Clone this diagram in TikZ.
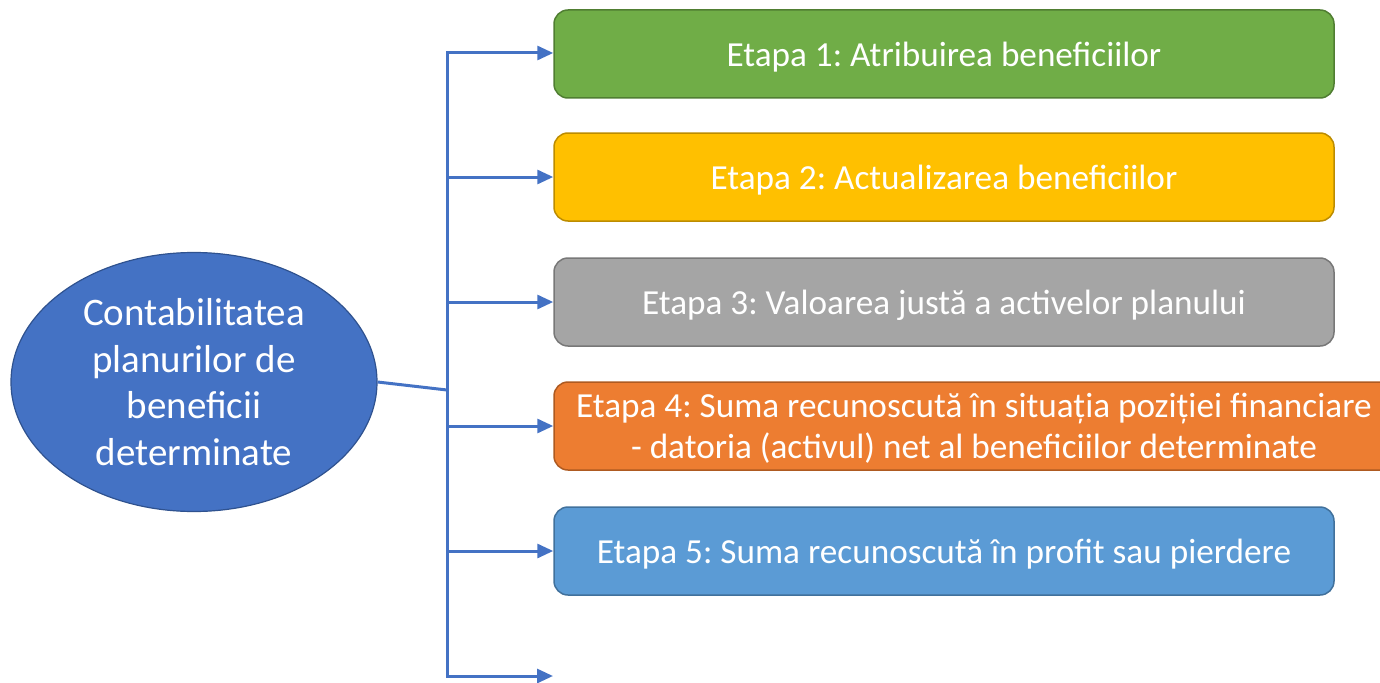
\documentclass[tikz,border=0pt]{standalone}
\usepackage{fontspec}
\setmainfont{Carlito}
\frenchspacing
\usetikzlibrary{arrows.meta,shapes.geometric}
\definecolor{cgreen}{HTML}{70AD47}\definecolor{cgreenb}{HTML}{507E32}
\definecolor{cgold}{HTML}{FFC000}\definecolor{cgoldb}{HTML}{BC8C00}
\definecolor{cgray}{HTML}{A5A5A5}\definecolor{cgrayb}{HTML}{787878}
\definecolor{corange}{HTML}{ED7D31}\definecolor{corangeb}{HTML}{AE5A21}
\definecolor{cblue}{HTML}{5B9BD5}\definecolor{cblueb}{HTML}{41719C}
\definecolor{cdark}{HTML}{4472C4}\definecolor{cdarkb}{HTML}{2F528F}
\begin{document}
\begin{tikzpicture}[x=1pt,y=-1pt,
  stage/.style={rectangle,rounded corners=14pt,line width=1.5pt,minimum width=780pt,minimum height=88pt,
    text=white,align=center,inner sep=0pt,text depth=0pt,font=\fontsize{35.2}{41}\selectfont},
  conn/.style={draw=cdark,line width=3pt},
  arr/.style={conn,-{Triangle[length=16pt,width=14pt]}}]
\useasboundingbox (0,0) rectangle (1380,682);
\clip (0,0) rectangle (1380,682);
\node[ellipse,fill=cdark,draw=cdarkb,line width=1.2pt,minimum width=366pt,minimum height=259pt,inner sep=0pt,
  text=white,align=center,font=\fontsize{39}{46.5}\selectfont] (ell) at (194,382)
  {Contabilitatea\\planurilor de\\beneficii\\determinate};
\node[stage,fill=cgreen,draw=cgreenb] (b1) at (944,54) {Etapa 1: Atribuirea beneficiilor};
\node[stage,fill=cgold,draw=cgoldb] (b2) at (944,177) {Etapa 2: Actualizarea beneficiilor};
\node[stage,fill=cgray,draw=cgrayb] (b3) at (944,302) {Etapa 3: Valoarea justă a activelor planului};
\node[stage,fill=corange,draw=corangeb,minimum width=840pt] (b4) at (974,426) {Etapa 4: Suma recunoscută în situația poziției financiare\\- datoria (activul) net al beneficiilor determinate};
\node[stage,fill=cblue,draw=cblueb] (b5) at (944,551) {Etapa 5: Suma recunoscută în profit sau pierdere};
\coordinate (top) at (447,53);
\coordinate (bot) at (447,676);
\coordinate (join) at (447,390);
\coordinate (end6) at (553,676);
\draw[conn] (ell.east) -- (join);
\draw[conn,line cap=rect] (top) -- (bot);
\draw[arr] (top) -- (b1.west |- top);
\draw[arr] (b2.west -| top) -- (b2.west);
\draw[arr] (b3.west -| top) -- (b3.west);
\draw[arr] (b4.west -| top) -- (b4.west);
\draw[arr] (b5.west -| top) -- (b5.west);
\draw[arr] (bot) -- (end6);
\end{tikzpicture}
\end{document}
